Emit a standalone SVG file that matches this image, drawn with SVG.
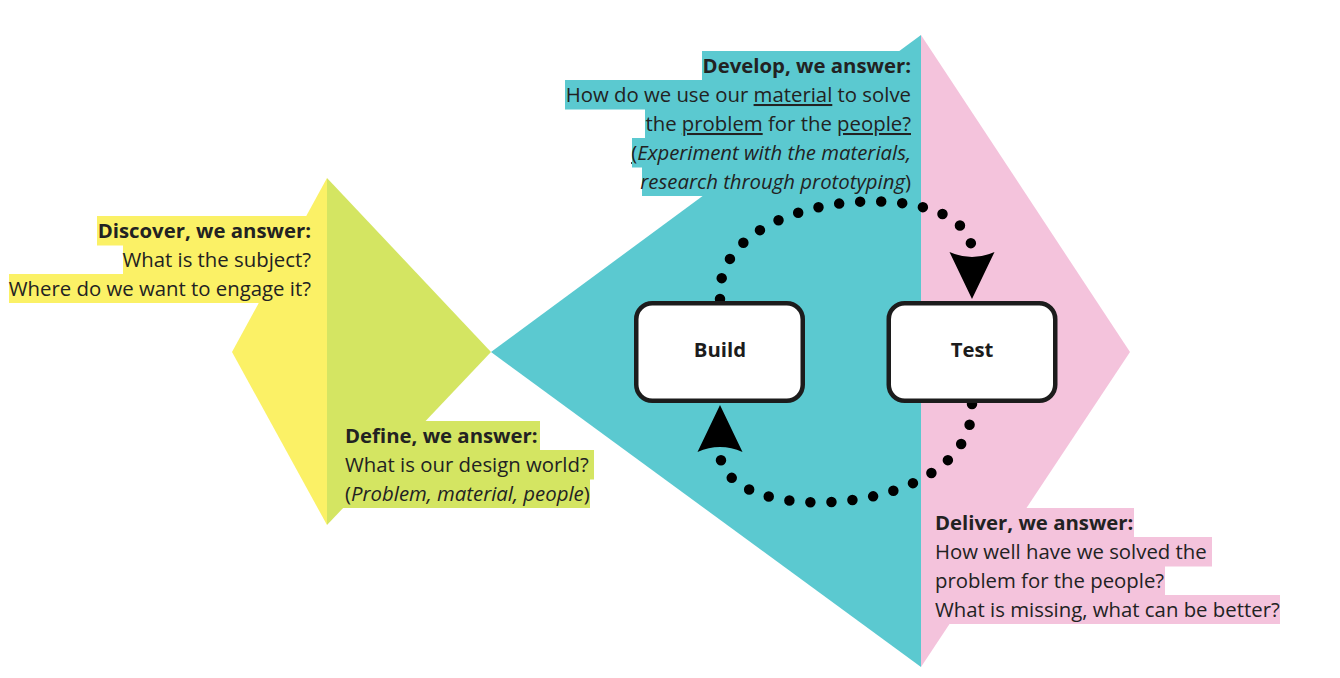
<svg xmlns="http://www.w3.org/2000/svg" width="1340" height="678" viewBox="0 0 1340 678">
<style>
.t{font-family:"Open Sans","Noto Sans","Liberation Sans",sans-serif;font-size:20.35px;fill:#222}
.b{font-weight:bold}
.i{font-style:italic}
.u{text-decoration:underline}
.yl{fill:#FBF166}
.gr{fill:#D4E562}
.tl{fill:#5BC9D0}
.pk{fill:#F4C3DC}
.node rect{fill:#fff;stroke:#1c1c1c;stroke-width:4.5}
.node text{font-family:"Open Sans","Noto Sans","Liberation Sans",sans-serif;font-size:20.35px;font-weight:bold;fill:#1c1c1c;text-anchor:middle}
.dots{fill:none;stroke:#000;stroke-width:10.5;stroke-linecap:round;stroke-dasharray:0 21}
</style>
<defs>
<marker id="ah" markerUnits="userSpaceOnUse" markerWidth="50" markerHeight="50" viewBox="0 -25 50 50" refX="0" refY="0" orient="auto" overflow="visible">
<path d="M47,0 L0,-22.5 Q10,0 0,22.5 Z" fill="#000"/>
</marker>
</defs>
<rect width="1340" height="678" fill="#fff"/>
<g id="shapes">
<polygon class="yl" points="327,178 232,352 327,525"/>
<polygon class="gr" points="327,178 491,352 327,525"/>
<polygon class="tl" points="491,352 921,35 921,667"/>
<polygon class="pk" points="921,35 1130,352 921,667"/>
</g>
<g id="discover">
<rect class="yl" x="97" y="216" width="230" height="29.5"/>
<rect class="yl" x="123" y="245" width="204" height="29.5"/>
<rect class="yl" x="9" y="274" width="318" height="29"/>
<text class="t" text-anchor="end"><tspan class="b" x="311" y="238">Discover, we answer:</tspan><tspan x="311" y="267">What is the subject?</tspan><tspan x="311" y="296">Where do we want to engage it?</tspan></text>
</g>
<g id="define">
<rect class="gr" x="337" y="421" width="203" height="29.5"/>
<rect class="gr" x="337" y="450" width="257" height="29.5"/>
<rect class="gr" x="337" y="479" width="253" height="29"/>
<text class="t"><tspan class="b" x="345" y="443">Define, we answer:</tspan><tspan x="345" y="472">What is our design world?</tspan><tspan x="345" y="501">(<tspan class="i">Problem, material, people</tspan>)</tspan></text>
</g>
<g id="develop">
<rect class="tl" x="702" y="51" width="219" height="29.5"/>
<rect class="tl" x="565" y="80" width="356" height="29.5"/>
<rect class="tl" x="645" y="109" width="276" height="29.5"/>
<rect class="tl" x="632" y="138" width="289" height="29.5"/>
<rect class="tl" x="642" y="167" width="279" height="29"/>
<text class="t" text-anchor="end"><tspan class="b" x="911" y="73">Develop, we answer:</tspan><tspan x="911" y="102">How do we use our <tspan class="u">material</tspan> to solve</tspan><tspan x="911" y="131">the <tspan class="u">problem</tspan> for the <tspan class="u">people?</tspan></tspan><tspan x="911" y="160"><tspan class="u">(</tspan><tspan class="i">Experiment with the materials,</tspan></tspan><tspan x="911" y="189"><tspan class="i">research through prototyping</tspan>)</tspan></text>
</g>
<g id="deliver">
<rect class="pk" x="921" y="508" width="213" height="29.5"/>
<rect class="pk" x="921" y="537" width="291" height="29.5"/>
<rect class="pk" x="921" y="566" width="244" height="29.5"/>
<rect class="pk" x="921" y="595" width="359" height="29"/>
<text class="t"><tspan class="b" x="935" y="530">Deliver, we answer:</tspan><tspan x="935" y="559">How well have we solved the</tspan><tspan x="935" y="588">problem for the people?</tspan><tspan x="935" y="617">What is missing, what can be better?</tspan></text>
</g>
<g id="connectors">
<path id="build-test" class="dots" d="M720,299 C712,186 972,172 972,252" marker-end="url(#ah)"/>
<path id="test-build" class="dots" d="M972,404 C975,520 720,530 720,452" marker-end="url(#ah)"/>
</g>
<g id="build" class="node">
<rect x="636.25" y="303.25" width="166.5" height="97.5" rx="16"/>
<text x="720" y="357">Build</text>
</g>
<g id="test" class="node">
<rect x="888.75" y="303.25" width="166.5" height="97.5" rx="16"/>
<text x="972" y="357">Test</text>
</g>
</svg>
